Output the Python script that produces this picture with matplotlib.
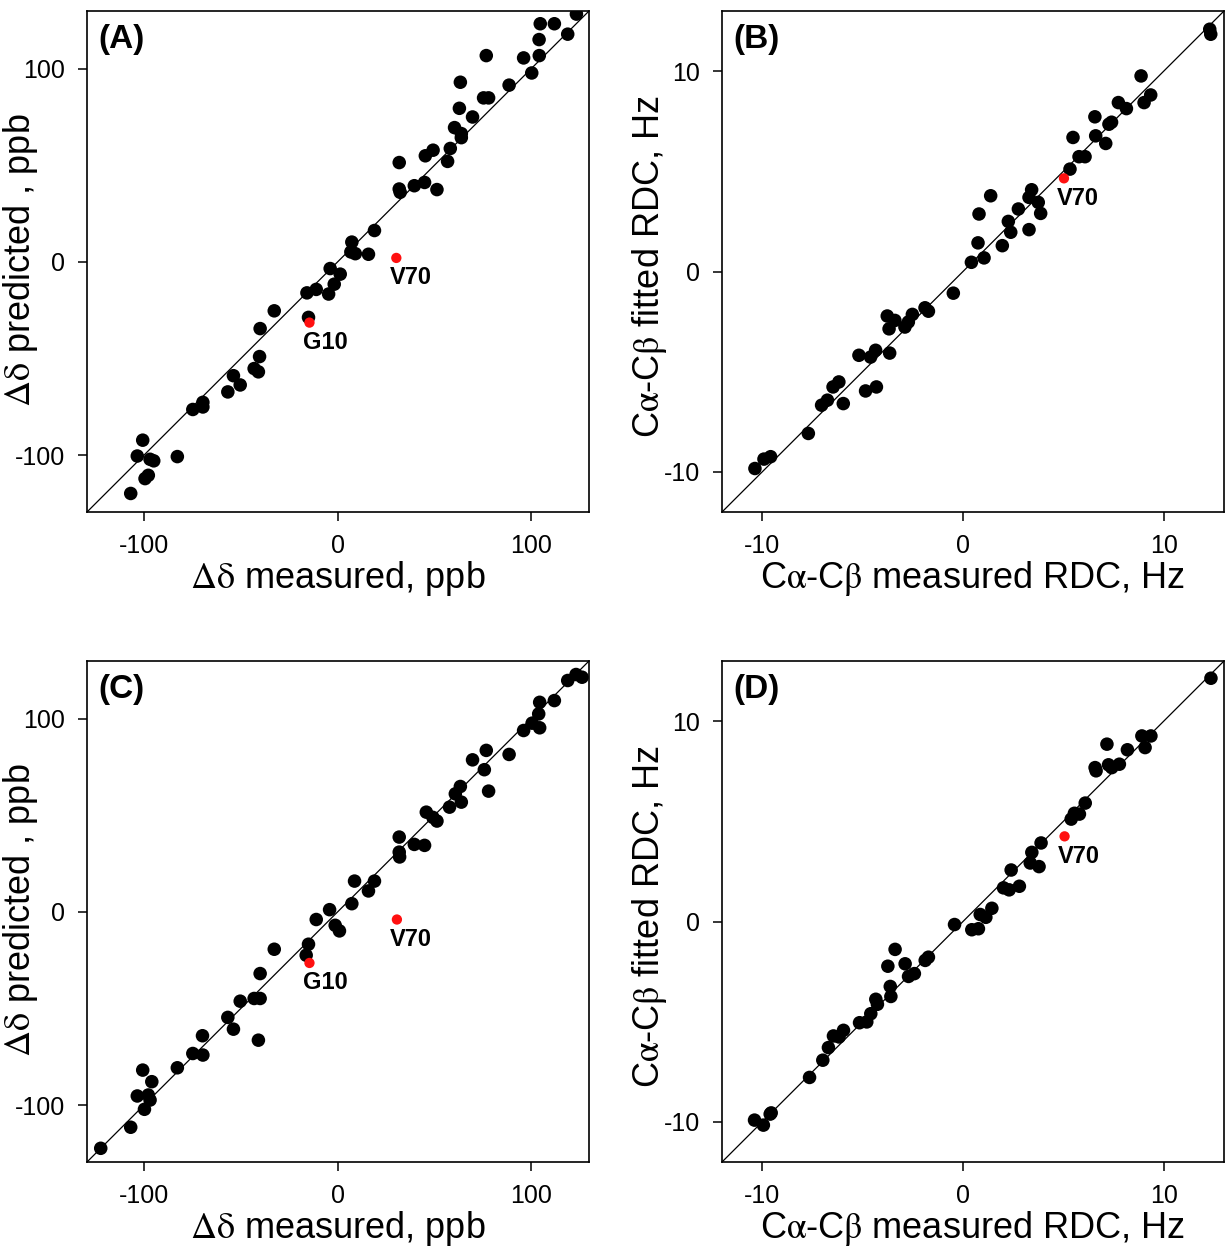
import matplotlib
matplotlib.use("Agg")
import matplotlib.pyplot as plt

plt.rcParams["font.family"] = ["Liberation Sans", "DejaVu Sans"]
plt.rcParams["mathtext.fontset"] = "stix"
plt.rcParams["axes.unicode_minus"] = False

# (A) chemical shift differences, ppb
A_meas = [123.5, 104.8, 112.1, 119.0, 104.2, 76.9, 96.2, 104.3, 100.4, 88.7, 63.5, 75.5, 78.1, 63.0,
          69.8, 60.5, 64.0, 64.0, 58.3, 56.9, 49.4, 45.4, 31.9, 31.9, 32.4, 39.7, 45.0, 51.4, 19.1,
          7.4, 6.9, 9.2, 16.0, -3.8, 1.4, -1.7, -15.8, -11.0, -4.6, -15.0, -32.7, -40.0, -40.3,
          -43.1, -40.9, -53.8, -50.3, -56.7, -74.8, -69.6, -69.6, -100.7, -103.5, -96.9, -95.0,
          -82.8, -99.5, -97.8, -106.9]
A_pred = [128.4, 123.4, 123.4, 118.0, 115.2, 106.9, 105.7, 106.9, 97.9, 91.6, 93.1, 85.0, 85.0, 79.6,
          75.1, 69.6, 66.5, 64.4, 58.8, 52.1, 57.9, 55.0, 51.5, 37.8, 36.1, 39.5, 41.2, 37.5, 16.3,
          10.3, 5.2, 4.3, 4.0, -3.4, -6.3, -11.5, -16.0, -14.2, -16.6, -28.7, -25.3, -34.5, -49.0,
          -55.2, -56.9, -58.9, -63.7, -67.3, -76.4, -72.7, -75.1, -92.3, -100.5, -102.2, -103.0,
          -100.8, -112.2, -110.5, -119.9]
A_red = {"V70": (30.4, 2.1), "G10": (-14.5, -31.4)}

# (B) Ca-Cb RDC, Hz
B_meas = [12.29, 12.34, 8.87, 9.35, 9.02, 7.74, 8.14, 6.57, 7.27, 7.40, 6.61, 7.11, 5.48, 5.78, 6.08,
          5.33, 3.42, 3.29, 3.75, 3.87, 1.38, 0.80, 2.76, 2.26, 2.38, 3.29, 0.75, 1.96, 1.05, 0.42,
          -0.48, -1.89, -1.72, -3.77, -3.39, -3.68, -2.89, -2.52, -2.72, -5.18, -4.60, -4.35, -3.65,
          -4.85, -4.31, -6.18, -6.47, -6.75, -7.04, -5.96, -7.70, -9.91, -9.58, -10.36]
B_fit = [12.09, 11.84, 9.76, 8.81, 8.43, 8.43, 8.13, 7.72, 7.35, 7.45, 6.77, 6.39, 6.69, 5.73, 5.73,
         5.11, 4.08, 3.70, 3.45, 2.90, 3.78, 2.87, 3.12, 2.50, 1.96, 2.09, 1.43, 1.29, 0.68, 0.46,
         -1.08, -1.81, -1.98, -2.22, -2.44, -2.86, -2.77, -2.14, -2.52, -4.18, -4.27, -3.93, -4.07,
         -5.96, -5.76, -5.51, -5.76, -6.42, -6.67, -6.59, -8.08, -9.36, -9.24, -9.83]
B_red = {"V70": (5.03, 4.65)}

# (C)
C_meas = [126.4, 123.3, 119.0, 112.1, 104.5, 104.0, 104.5, 100.6, 96.2, 88.7, 76.9, 69.8, 75.9, 78.1,
          63.5, 60.9, 64.0, 57.9, 45.9, 51.4, 49.3, 31.9, 31.9, 32.1, 39.7, 45.0, 8.8, 19.1, 16.0,
          7.4, -4.1, -11.0, -1.2, 1.0, -15.0, -32.7, -16.2, -40.0, -43.1, -40.0, -50.3, -56.7,
          -53.8, -40.9, -69.8, -74.8, -69.6, -82.8, -100.7, -96.0, -103.5, -97.8, -96.9, -99.8,
          -106.9, -122.4]
C_pred = [121.6, 123.0, 119.9, 109.5, 108.6, 102.6, 95.4, 97.8, 94.0, 81.6, 83.7, 78.8, 73.7, 62.6,
          65.0, 61.2, 56.9, 54.3, 51.7, 47.1, 49.0, 38.8, 31.0, 28.5, 35.0, 34.5, 16.0, 16.0, 10.9,
          4.3, 1.2, -3.9, -6.9, -9.8, -16.7, -19.3, -22.4, -31.9, -44.8, -44.8, -46.2, -54.6,
          -60.7, -66.4, -64.1, -73.3, -74.1, -80.7, -81.9, -87.9, -95.3, -94.8, -97.4, -102.2,
          -111.5, -122.4]
C_red = {"V70": (30.7, -3.9), "G10": (-14.5, -26.4)}

# (D)
D_meas = [12.35, 8.91, 9.36, 9.07, 8.19, 7.17, 7.79, 7.41, 7.25, 6.58, 6.63, 6.09, 5.80, 5.55, 5.39,
          3.89, 3.43, 3.35, 3.79, 2.40, 2.02, 2.30, 2.81, 1.44, 0.86, 1.14, -0.42, 0.44, 0.77, -3.38,
          -3.74, -2.88, -1.72, -1.88, -2.42, -2.71, -3.62, -3.59, -4.34, -4.26, -4.59, -5.15, -4.79,
          -6.45, -5.95, -6.17, -6.70, -6.98, -7.64, -9.60, -9.55, -10.38, -9.94]
D_fit = [12.14, 9.26, 9.26, 8.68, 8.57, 8.85, 7.85, 7.68, 7.82, 7.68, 7.52, 5.91, 5.36, 5.40, 5.11,
         3.92, 3.45, 2.92, 2.74, 2.57, 1.68, 1.58, 1.76, 0.66, 0.35, 0.21, -0.15, -0.41, -0.36, -1.39,
         -2.23, -2.11, -1.78, -1.94, -2.60, -2.74, -3.24, -3.74, -3.88, -4.13, -4.60, -5.05, -5.01,
         -5.71, -5.43, -5.76, -6.29, -6.92, -7.78, -9.61, -9.55, -9.91, -10.16]
D_red = {"V70": (5.06, 4.25)}

ppb_lim = (-129.5, 130)
hz_lim = (-12, 13)
ppb_ticks = [-100, 0, 100]
hz_ticks = [-10, 0, 10]

dd = r"$\mathrm{\Delta\delta}$"
cacb = r"C$\mathrm{\alpha}$-C$\mathrm{\beta}$"

W, H = 1225, 1253
fig = plt.figure(figsize=(W / 100, H / 100), dpi=100)

def rect(x0, x1, y0, y1):
    return [x0 / W, 1 - y1 / H, (x1 - x0) / W, (y1 - y0) / H]

# ylabel placement: (x in axes coords, y in axes coords, alignment along text)
ppb_ylab = (-0.093, 0.21, "left")
hz_ylab = (-0.105, 0.49, "center")

panels = [
    ("(A)", rect(87, 589, 11, 512), A_meas, A_pred, A_red, ppb_lim, ppb_ticks,
     dd + " measured, ppb", dd + " predicted , ppb", ppb_ylab),
    ("(B)", rect(722, 1224, 11, 512), B_meas, B_fit, B_red, hz_lim, hz_ticks,
     cacb + " measured RDC, Hz", cacb + " fitted RDC, Hz", hz_ylab),
    ("(C)", rect(87, 589, 661, 1162), C_meas, C_pred, C_red, ppb_lim, ppb_ticks,
     dd + " measured, ppb", dd + " predicted , ppb", ppb_ylab),
    ("(D)", rect(722, 1224, 661, 1162), D_meas, D_fit, D_red, hz_lim, hz_ticks,
     cacb + " measured RDC, Hz", cacb + " fitted RDC, Hz", hz_ylab),
]

for tag, r, xs, ys, red, lim, ticks, xlab, ylab, ypos in panels:
    ax = fig.add_axes(r)
    ax.plot(lim, lim, color="black", lw=0.9, zorder=1)
    ax.scatter(xs, ys, s=95, color="black", edgecolors="none", zorder=2)
    for name, (rx, ry) in red.items():
        ax.scatter([rx], [ry], s=55, color="#ff1010", edgecolors="none", zorder=3)
        ax.annotate(name, (rx, ry), xytext=(-5, -6), textcoords="offset points",
                    ha="left", va="top", fontsize=17, fontweight="bold")
    ax.set_xlim(lim)
    ax.set_ylim(lim)
    ax.set_xticks(ticks)
    ax.set_yticks(ticks)
    ax.tick_params(direction="out", length=6.5, width=1.1, labelsize=18, pad=9,
                   top=False, right=False)
    for sp in ax.spines.values():
        sp.set_linewidth(1.2)
    ax.set_xlabel(xlab, fontsize=26, labelpad=1)
    ax.set_ylabel(ylab, fontsize=26)
    ax.yaxis.set_label_coords(ypos[0], ypos[1])
    ax.yaxis.label.set_ha(ypos[2])
    ax.text(0.022, 0.975, tag, transform=ax.transAxes, ha="left", va="top",
            fontsize=24, fontweight="bold")

fig.savefig("out.png", dpi=100)
